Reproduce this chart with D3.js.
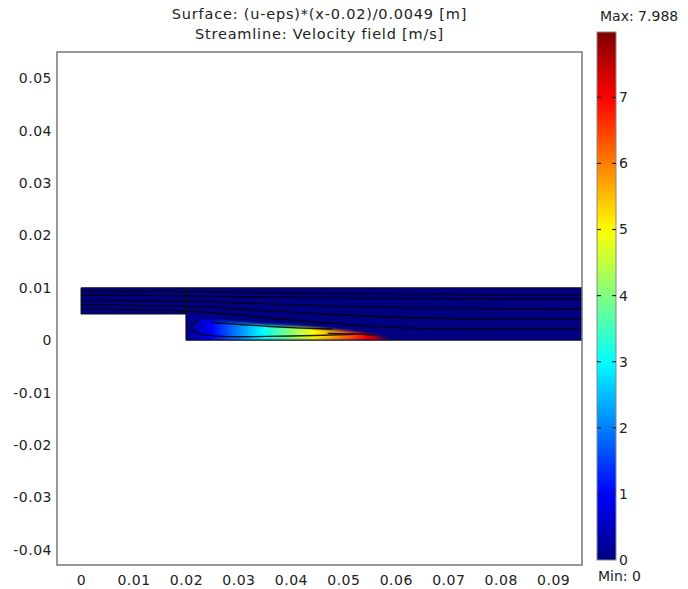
<!DOCTYPE html>
<html>
<head>
<meta charset="utf-8">
<script src="https://cdn.jsdelivr.net/npm/d3@7"></script>
<style>
  body { margin: 0; background: #fff; }
  text { font-family: "DejaVu Sans", Verdana, sans-serif; fill: #222; }
</style>
</head>
<body>
<div id="container"></div>
<script>
// tick labels
var xTicks = [0, 0.01, 0.02, 0.03, 0.04, 0.05, 0.06, 0.07, 0.08, 0.09];
var yTicks = [-0.04, -0.03, -0.02, -0.01, 0, 0.01, 0.02, 0.03, 0.04, 0.05];
var cbTicks = [0, 1, 2, 3, 4, 5, 6, 7];
var titleLines = ['Surface: (u-eps)*(x-0.02)/0.0049 [m]', 'Streamline: Velocity field [m/s]'];
var minVal = 0, maxVal = 7.988;

// jet colour map
var jetPos = [0, 0.125, 0.375, 0.625, 0.875, 1];
var jetCol = ['#000080', '#0000ff', '#00ffff', '#ffff00', '#ff0000', '#800000'];

// geometry (m)
var inlet = [[0, 0.005], [0.02, 0.005], [0.02, 0.01], [0, 0.01]];
var channel = [[0.02, 0], [0.1, 0], [0.1, 0.01], [0.02, 0.01]];
var divider = [[0.02, 0.005], [0.02, 0.01]];

// recirculation zone where the surface expression is non zero (upper edge, y in m)
var recirc = [[0.02, 0], [0.02, 0.0046], [0.0225, 0.0042], [0.028, 0.0035], [0.034, 0.003],
  [0.042, 0.0025], [0.047, 0.0021], [0.051, 0.0017], [0.055, 0.0011], [0.0591, 0]];
var recircX = [0.02, 0.0591]; // x range over which the value goes 0 -> max

// streamlines (x, y in m)
var streams = [
  [[0, 0.0094], [0.02, 0.0093], [0.035, 0.0091], [0.05, 0.0089], [0.07, 0.0087], [0.1, 0.0087]],
  [[0, 0.0086], [0.02, 0.0085], [0.035, 0.0082], [0.05, 0.008], [0.07, 0.0079], [0.1, 0.0079]],
  [[0, 0.0076], [0.02, 0.0075], [0.03, 0.0071], [0.045, 0.0066], [0.06, 0.0062], [0.08, 0.006], [0.1, 0.006]],
  [[0, 0.0067], [0.02, 0.0066], [0.03, 0.006], [0.045, 0.005], [0.06, 0.0043], [0.075, 0.0041], [0.1, 0.004]],
  [[0, 0.0059], [0.02, 0.0058], [0.03, 0.0048], [0.04, 0.0039], [0.05, 0.003], [0.06, 0.0023], [0.075, 0.0021], [0.1, 0.0021]],
  [[0.0225, 0.0039], [0.0208, 0.003], [0.021, 0.0019], [0.0235, 0.0009], [0.028, 0.0006], [0.035, 0.0007], [0.045, 0.0009], [0.052, 0.0011]],
  [[0.025, 0.0034], [0.03, 0.003], [0.036, 0.0026], [0.042, 0.0023], [0.048, 0.0021]],
  [[0.047, 0.0013], [0.052, 0.0012], [0.056, 0.001]]
];

var svgWidth = 688, svgHeight = 589;
var svg = d3.select('#container').append('svg').attr('width', svgWidth).attr('height', svgHeight);
var plot = { left: 57, right: 582, top: 52, bottom: 565 };

var x = d3.scaleLinear().domain([-0.00458, 0.0955]).range([plot.left, plot.right]);
var y = d3.scaleLinear().domain([-0.0429, 0.055]).range([plot.bottom, plot.top]);

var jet = d3.scaleLinear().domain(jetPos).range(jetCol);
var cScale = d3.scaleLinear().domain([minVal, maxVal]).range([0, 1]);

var defs = svg.append('defs');
defs.append('clipPath').attr('id', 'plotclip').append('rect')
  .attr('x', plot.left).attr('y', plot.top)
  .attr('width', plot.right - plot.left).attr('height', plot.bottom - plot.top);
defs.append('clipPath').attr('id', 'chanclip').append('path')
  .attr('d', d3.line().x(function(d) { return x(d[0]); }).y(function(d) { return y(d[1]); })(channel) + 'Z');

var grad = defs.append('linearGradient').attr('id', 'recgrad')
  .attr('gradientUnits', 'userSpaceOnUse')
  .attr('x1', x(recircX[0])).attr('x2', x(recircX[1])).attr('y1', 0).attr('y2', 0);
jetPos.forEach(function(p, i) {
  grad.append('stop').attr('offset', p).attr('stop-color', jetCol[i]);
});

defs.append('filter').attr('id', 'soft').attr('x', '-10%').attr('y', '-50%').attr('width', '120%').attr('height', '200%')
  .append('feGaussianBlur').attr('stdDeviation', 1.4);

var line = d3.line()
  .x(function(d) { return x(d[0]); })
  .y(function(d) { return y(d[1]); });

// title
svg.selectAll('.title').data(titleLines).enter().append('text')
  .attr('class', 'title')
  .attr('x', (plot.left + plot.right) / 2)
  .attr('y', function(d, i) { return 19 + i * 19.5; })
  .attr('text-anchor', 'middle')
  .style('font-size', '14.5px')
  .style('letter-spacing', '0.8px')
  .text(function(d) { return d; });

var g = svg.append('g').attr('clip-path', 'url(#plotclip)');

// subdomains, value 0 background
g.append('path').attr('d', line(inlet) + 'Z').attr('fill', jet(cScale(0)));
g.append('path').attr('d', line(channel) + 'Z').attr('fill', jet(cScale(0)));

// non zero part of the surface
g.append('g').attr('clip-path', 'url(#chanclip)')
  .append('path')
  .attr('d', line.curve(d3.curveMonotoneX)(recirc) + 'Z')
  .attr('fill', 'url(#recgrad)')
  .attr('filter', 'url(#soft)');
line.curve(d3.curveLinear);

// streamlines
g.selectAll('.stream').data(streams).enter().append('path')
  .attr('class', 'stream')
  .attr('d', d3.line().curve(d3.curveBasis)
    .x(function(d) { return x(d[0]); }).y(function(d) { return y(d[1]); }))
  .attr('fill', 'none')
  .attr('stroke', '#000')
  .attr('stroke-width', 1.3)
  .attr('stroke-opacity', 0.85);

// boundaries
[inlet, channel].forEach(function(p) {
  g.append('path').attr('d', line(p) + 'Z').attr('fill', 'none')
    .attr('stroke', '#111').attr('stroke-width', 1);
});
g.append('path').attr('d', line(divider)).attr('stroke', '#111').attr('stroke-width', 1);

// frame
svg.append('rect')
  .attr('x', plot.left).attr('y', plot.top)
  .attr('width', plot.right - plot.left).attr('height', plot.bottom - plot.top)
  .attr('fill', 'none').attr('stroke', '#777').attr('stroke-width', 1.5);

var fmt = function(d) { return d === 0 ? '0' : d.toFixed(2); };

var ax = svg.append('g').attr('transform', 'translate(0,' + plot.bottom + ')')
  .call(d3.axisBottom(x).tickValues(xTicks).tickSize(0).tickPadding(10).tickFormat(fmt));
ax.select('.domain').remove();
ax.selectAll('text').style('font-size', '14px').style('letter-spacing', '0.5px').attr('fill', '#222');

var ay = svg.append('g').attr('transform', 'translate(' + plot.left + ',0)')
  .call(d3.axisLeft(y).tickValues(yTicks).tickSize(0).tickPadding(5).tickFormat(fmt));
ay.select('.domain').remove();
ay.selectAll('text').style('font-size', '14px').style('letter-spacing', '0.5px').attr('fill', '#222');

// colour bar
var cb = { left: 597, width: 19, top: 32, bottom: 560 };
var cy = d3.scaleLinear().domain([minVal, maxVal]).range([cb.bottom, cb.top]);
var cgrad = defs.append('linearGradient').attr('id', 'cbgrad')
  .attr('x1', 0).attr('x2', 0).attr('y1', 1).attr('y2', 0);
jetPos.forEach(function(p, i) {
  cgrad.append('stop').attr('offset', p).attr('stop-color', jetCol[i]);
});
svg.append('rect')
  .attr('x', cb.left).attr('y', cy(maxVal))
  .attr('width', cb.width).attr('height', cy(minVal) - cy(maxVal))
  .attr('fill', 'url(#cbgrad)').attr('stroke', '#888').attr('stroke-width', 1);

var ct = svg.append('g').selectAll('g').data(cbTicks).enter().append('g')
  .attr('transform', function(d) { return 'translate(0,' + cy(d) + ')'; });
ct.filter(function(d) { return d > 0; }).append('line')
  .attr('x1', cb.left).attr('x2', cb.left + 4).attr('stroke', '#222').attr('stroke-width', 1.2);
ct.filter(function(d) { return d > 0; }).append('line')
  .attr('x1', cb.left + cb.width - 4).attr('x2', cb.left + cb.width).attr('stroke', '#222').attr('stroke-width', 1.2);
ct.append('text')
  .attr('x', cb.left + cb.width + 3).attr('dy', '0.35em')
  .style('font-size', '14px')
  .text(function(d) { return d; });

svg.append('text').attr('x', 600).attr('y', 21).style('font-size', '14px').text('Max: ' + maxVal);
svg.append('text').attr('x', 598).attr('y', 581).style('font-size', '14px').text('Min: ' + minVal);
</script>
</body>
</html>
